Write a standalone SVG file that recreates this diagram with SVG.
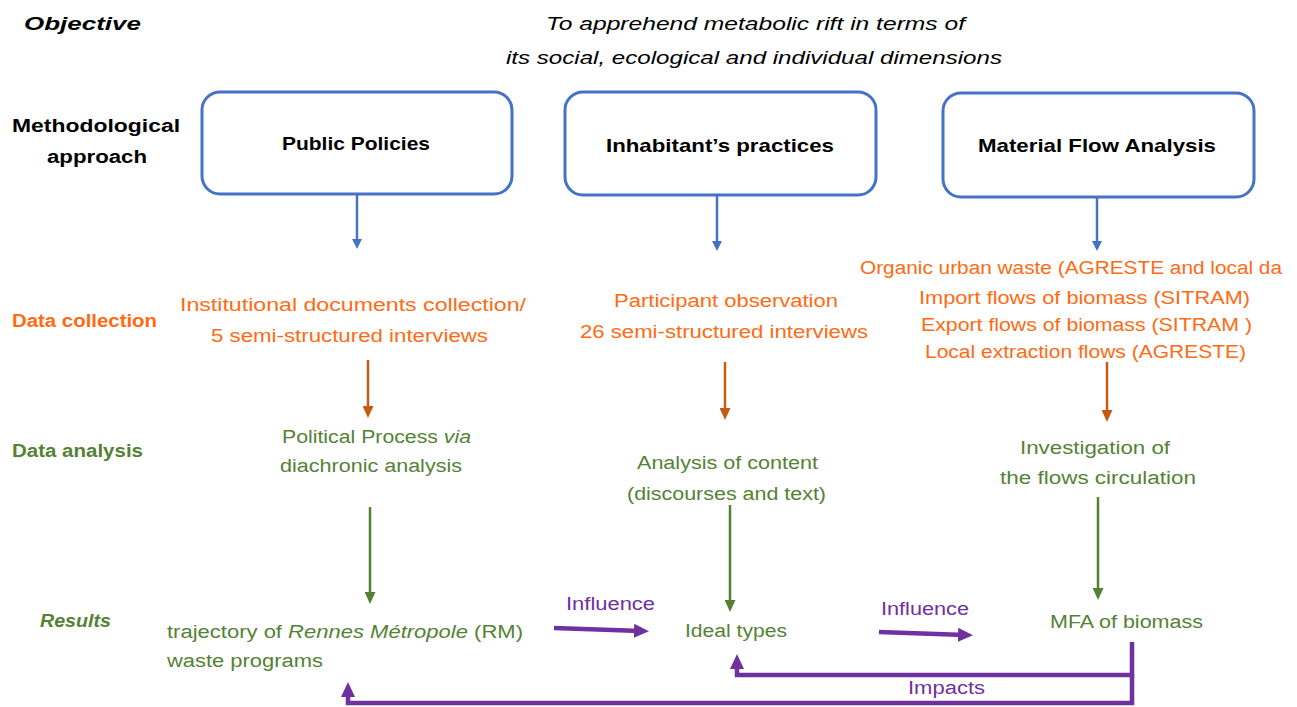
<svg xmlns="http://www.w3.org/2000/svg" width="1297" height="707" viewBox="0 0 1297 707">
<style>
text{font-family:"Liberation Sans",Arial,sans-serif;font-size:18px}
.hd{font-weight:bold;fill:#000}
.ob{font-style:italic;fill:#000}
.box{fill:#fff;stroke:#4472C4;stroke-width:3}
.bt{font-weight:bold;fill:#000;font-size:19px}
.or{fill:#FF6A13}
.gr{fill:#548235}
.pu{fill:#7030A0}
.ab{stroke:#4472C4;stroke-width:2.5;fill:none}
.ao{stroke:#C55A11;stroke-width:2.5;fill:none}
.ag{stroke:#548235;stroke-width:2.5;fill:none}
.ap{stroke:#7030A0;stroke-width:4.5;fill:none}
</style>
<defs>
<marker id="mb" markerWidth="10" markerHeight="10" refX="5" refY="5" orient="auto" markerUnits="userSpaceOnUse" viewBox="0 0 10 10"><path d="M0,0 L10,5 L0,10 z" fill="#4472C4"/></marker>
<marker id="mo" markerWidth="12" markerHeight="11" refX="6" refY="5.5" orient="auto" markerUnits="userSpaceOnUse" viewBox="0 0 12 11"><path d="M0,0 L12,5.5 L0,11 z" fill="#C55A11"/></marker>
<marker id="mg" markerWidth="12" markerHeight="11" refX="6" refY="5.5" orient="auto" markerUnits="userSpaceOnUse" viewBox="0 0 12 11"><path d="M0,0 L12,5.5 L0,11 z" fill="#548235"/></marker>
<marker id="mp" markerWidth="15" markerHeight="14" refX="7" refY="7" orient="auto" markerUnits="userSpaceOnUse" viewBox="0 0 15 14"><path d="M0,0 L15,7 L0,14 z" fill="#7030A0"/></marker>
</defs>

<g id="row-labels">
<text x="24" y="30" class="hd ob" textLength="117" lengthAdjust="spacingAndGlyphs">Objective</text>
<text x="12" y="132" class="hd" textLength="168" lengthAdjust="spacingAndGlyphs">Methodological</text>
<text x="47" y="163" class="hd" textLength="100" lengthAdjust="spacingAndGlyphs">approach</text>
<text x="12" y="327" class="hd or" textLength="145" lengthAdjust="spacingAndGlyphs" style="fill:#FF6A13">Data collection</text>
<text x="12" y="457" class="hd gr" textLength="131" lengthAdjust="spacingAndGlyphs" style="fill:#548235">Data analysis</text>
<text x="40" y="627" class="hd ob gr" textLength="71" lengthAdjust="spacingAndGlyphs" style="fill:#548235">Results</text>
</g>

<g id="objective">
<text x="546" y="30" class="ob" textLength="419" lengthAdjust="spacingAndGlyphs">To apprehend metabolic rift in terms of</text>
<text x="506" y="64" class="ob" textLength="496" lengthAdjust="spacingAndGlyphs">its social, ecological and individual dimensions</text>
</g>

<g id="box-public-policies">
<rect x="202" y="92" width="310" height="102" rx="18" class="box"/>
<text x="282" y="150" class="bt" textLength="148" lengthAdjust="spacingAndGlyphs">Public Policies</text>
</g>
<g id="box-inhabitants">
<rect x="565" y="92" width="311" height="103" rx="18" class="box"/>
<text x="606" y="152" class="bt" textLength="228" lengthAdjust="spacingAndGlyphs">Inhabitant’s practices</text>
</g>
<g id="box-mfa">
<rect x="943" y="93" width="311" height="104" rx="18" class="box"/>
<text x="978" y="152" class="bt" textLength="238" lengthAdjust="spacingAndGlyphs">Material Flow Analysis</text>
</g>

<g id="data-collection-pp">
<text x="180" y="311" class="or" textLength="346" lengthAdjust="spacingAndGlyphs">Institutional documents collection/</text>
<text x="211" y="342" class="or" textLength="277" lengthAdjust="spacingAndGlyphs">5 semi-structured interviews</text>
</g>
<g id="data-collection-ip">
<text x="614" y="307" class="or" textLength="224" lengthAdjust="spacingAndGlyphs">Participant observation</text>
<text x="580" y="338" class="or" textLength="288" lengthAdjust="spacingAndGlyphs">26 semi-structured interviews</text>
</g>
<g id="data-collection-mfa">
<text x="860" y="274" class="or" textLength="422" lengthAdjust="spacingAndGlyphs">Organic urban waste (AGRESTE and local da</text>
<text x="919" y="304" class="or" textLength="331" lengthAdjust="spacingAndGlyphs">Import flows of biomass (SITRAM)</text>
<text x="921" y="331" class="or" textLength="331" lengthAdjust="spacingAndGlyphs">Export flows of biomass (SITRAM )</text>
<text x="925" y="358" class="or" textLength="321" lengthAdjust="spacingAndGlyphs">Local extraction flows (AGRESTE)</text>
</g>

<g id="analysis-pp">
<text x="282" y="443" class="gr" textLength="189" lengthAdjust="spacingAndGlyphs">Political Process <tspan font-style="italic">via</tspan></text>
<text x="280" y="472" class="gr" textLength="182" lengthAdjust="spacingAndGlyphs">diachronic analysis</text>
</g>
<g id="analysis-ip">
<text x="637" y="469" class="gr" textLength="181" lengthAdjust="spacingAndGlyphs">Analysis of content</text>
<text x="627" y="500" class="gr" textLength="199" lengthAdjust="spacingAndGlyphs">(discourses and text)</text>
</g>
<g id="analysis-mfa">
<text x="1020" y="454" class="gr" textLength="150" lengthAdjust="spacingAndGlyphs">Investigation of</text>
<text x="1000" y="484" class="gr" textLength="196" lengthAdjust="spacingAndGlyphs">the flows circulation</text>
</g>

<g id="result-pp">
<text x="167" y="638" class="gr" textLength="356" lengthAdjust="spacingAndGlyphs">trajectory of <tspan font-style="italic">Rennes Métropole</tspan> (RM)</text>
<text x="167" y="667" class="gr" textLength="156" lengthAdjust="spacingAndGlyphs">waste programs</text>
</g>
<g id="result-ip">
<text x="685" y="637" class="gr" textLength="102" lengthAdjust="spacingAndGlyphs">Ideal types</text>
</g>
<g id="result-mfa">
<text x="1050" y="628" class="gr" textLength="153" lengthAdjust="spacingAndGlyphs">MFA of biomass</text>
</g>

<g id="connectors">
<line x1="357" y1="194" x2="357" y2="244" class="ab" marker-end="url(#mb)"/>
<line x1="717" y1="195" x2="717" y2="246" class="ab" marker-end="url(#mb)"/>
<line x1="1097" y1="197" x2="1097" y2="246" class="ab" marker-end="url(#mb)"/>

<line x1="368" y1="360" x2="368" y2="412" class="ao" marker-end="url(#mo)"/>
<line x1="725" y1="362" x2="725" y2="414" class="ao" marker-end="url(#mo)"/>
<line x1="1107" y1="362" x2="1107" y2="416" class="ao" marker-end="url(#mo)"/>

<line x1="370" y1="507" x2="370" y2="598" class="ag" marker-end="url(#mg)"/>
<line x1="730" y1="505" x2="730" y2="606" class="ag" marker-end="url(#mg)"/>
<line x1="1098" y1="497" x2="1098" y2="594" class="ag" marker-end="url(#mg)"/>

<line x1="554" y1="628" x2="641" y2="631" class="ap" marker-end="url(#mp)"/>
<line x1="879" y1="632" x2="965" y2="635" class="ap" marker-end="url(#mp)"/>
<polyline points="1132,642 1132,675 737,675 737,662" class="ap" marker-end="url(#mp)"/>
<polyline points="1132,675 1132,703 348,703 348,690" class="ap" marker-end="url(#mp)"/>
<text x="566" y="610" class="pu" textLength="89" lengthAdjust="spacingAndGlyphs">Influence</text>
<text x="881" y="615" class="pu" textLength="88" lengthAdjust="spacingAndGlyphs">Influence</text>
<text x="908" y="694" class="pu" textLength="77" lengthAdjust="spacingAndGlyphs">Impacts</text>
</g>
</svg>
